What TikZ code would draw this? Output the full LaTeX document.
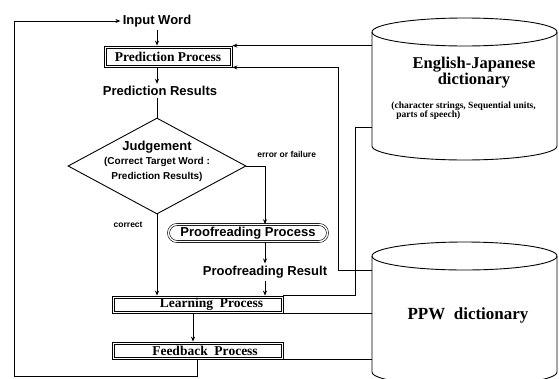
\documentclass[tikz,border=0pt]{standalone}
\usepackage{fontspec}
\setmainfont{Liberation Serif}
\newfontfamily\lsans{Liberation Sans}
\usetikzlibrary{shapes.geometric,shapes.misc,arrows.meta,calc}
\begin{document}
\begin{tikzpicture}[x=1pt,y=-1pt,line width=0.9pt,
  lbl/.style={font=\lsans\bfseries\fontsize{13}{15}\selectfont, inner sep=2pt},
  smalllbl/.style={font=\lsans\bfseries\fontsize{8.5}{10}\selectfont, inner sep=0pt},
  procbox/.style={draw, shape=rectangle, line width=0.8pt, inner sep=0pt,
    font=\bfseries\fontsize{13.5}{15}\selectfont},
  innerframe/.style={line width=0.6pt},
  arr/.style={-{Stealth[length=5pt,width=4pt]}},
  rarr/.style={{Stealth[length=5pt,width=4pt]}-},
  dictbody/.style={minimum width=185pt, inner sep=0pt},
]
\useasboundingbox (0,0) rectangle (559,378);

% cylinders
\node[dictbody, minimum height=114pt] (ej) at (464.5,89) {};
\draw (372,32) -- (372,146) arc[start angle=180,end angle=360,x radius=92.5pt,y radius=14pt] -- (557,32);
\draw (464.5,32) ellipse [x radius=92.5pt, y radius=14pt];
\node[dictbody, minimum height=116pt] (ppw) at (464.5,314) {};
\begin{scope}
\clip (0,0) rectangle (559,378);
\draw (372,256) -- (372,372) arc[start angle=180,end angle=360,x radius=92.5pt,y radius=14pt] -- (557,256);
\end{scope}
\draw (464.5,256) ellipse [x radius=92.5pt, y radius=14pt];

\node[font=\bfseries\fontsize{16.5}{15}\selectfont, align=center, inner sep=0pt] (ejt) at (474,73) {English-Japanese\\dictionary};
\node[font=\bfseries\fontsize{9.5}{9}\selectfont, align=left, anchor=west, inner sep=0pt] (ejs) at (391,111) {(character strings, Sequential units,\\\hspace*{5pt}parts of speech)};
\node[font=\bfseries\fontsize{17}{15}\selectfont, inner sep=0pt] (ppwt) at (468,315) {PPW\enspace dictionary};

% flow nodes
\node[lbl] (input) at (157,21) {Input Word};
\node[procbox, minimum width=128pt, minimum height=21pt] (pred) at (168,56.5) {Prediction Process};
\draw[innerframe] ([shift={(2.2pt,-2.2pt)}]pred.north west) rectangle ([shift={(-2.2pt,2.2pt)}]pred.south east);
\node[lbl] (predres) at (160,91) {Prediction Results};
\node[draw, diamond, minimum width=178pt, minimum height=96pt, inner sep=0pt] (judge) at (157,166) {};
\node[align=center, inner sep=0pt, font=\lsans\bfseries\fontsize{10}{14.5}\selectfont] (jt) at (157,161)
  {{\fontsize{13}{15}\selectfont Judgement}\\(Correct Target Word :\\Prediction Results)};
\node[draw, rounded rectangle, double, double distance=1.4pt, line width=0.6pt, minimum width=163pt, minimum height=17pt, inner xsep=2pt, inner ysep=0pt,
  font=\lsans\bfseries\fontsize{13}{15}\selectfont] (proof) at (248,233) {Proofreading Process};
\node[lbl] (proofres) at (265,272) {Proofreading Result};
\node[procbox, minimum width=171pt, minimum height=17pt] (learn) at (197.5,304.5) {\hspace*{28pt}Learning\enspace Process};
\draw[innerframe] ([shift={(2.2pt,-2.2pt)}]learn.north west) rectangle ([shift={(-2.2pt,2.2pt)}]learn.south east);
\node[procbox, minimum width=171pt, minimum height=17pt] (feed) at (197.5,350.5) {\hspace*{15pt}Feedback\enspace Process};
\draw[innerframe] ([shift={(2.2pt,-2.2pt)}]feed.north west) rectangle ([shift={(-2.2pt,2.2pt)}]feed.south east);

\node[smalllbl, anchor=west] (err) at (257,154) {error or failure};
\node[smalllbl, anchor=east] (corr) at (143,225) {correct};

% connectors
\coordinate (loopbl) at (14,376);
\draw[arr] (feed.south) |- (loopbl) |- (input.west);
\draw[arr] (input.south) -- (pred.north -| input.south);
\draw[arr] (pred.south -| input.south) -- (predres.north -| input.south);
\draw (predres.south -| judge.north) -- (judge.north);
\draw[arr] (judge.east) -| (proofres.north |- proof.north);
\draw[arr] (proofres.north |- proof.south) -- (proofres.north);
\draw[arr] (proofres.south) -- (proofres.south |- learn.north);
\draw[arr] (judge.south) -- (judge.south |- learn.north);
\draw[arr] ([xshift=-4.5pt]learn.south) -- ([xshift=-4.5pt]feed.north);

\draw[rarr] (pred.north east) -- (pred.north east -| ej.west);
\coordinate (bendA) at (338,270);
\draw[rarr] (pred.south east) -| (bendA) -- (bendA -| ppw.west);
\coordinate (bendB) at (355,127);
\draw (learn.north east) -| (bendB) -- (bendB -| ej.west);
\draw (learn.south east) -- (learn.south east -| ppw.west);
\draw (feed.south east) -- (feed.south east -| ppw.west);
\end{tikzpicture}
\end{document}
